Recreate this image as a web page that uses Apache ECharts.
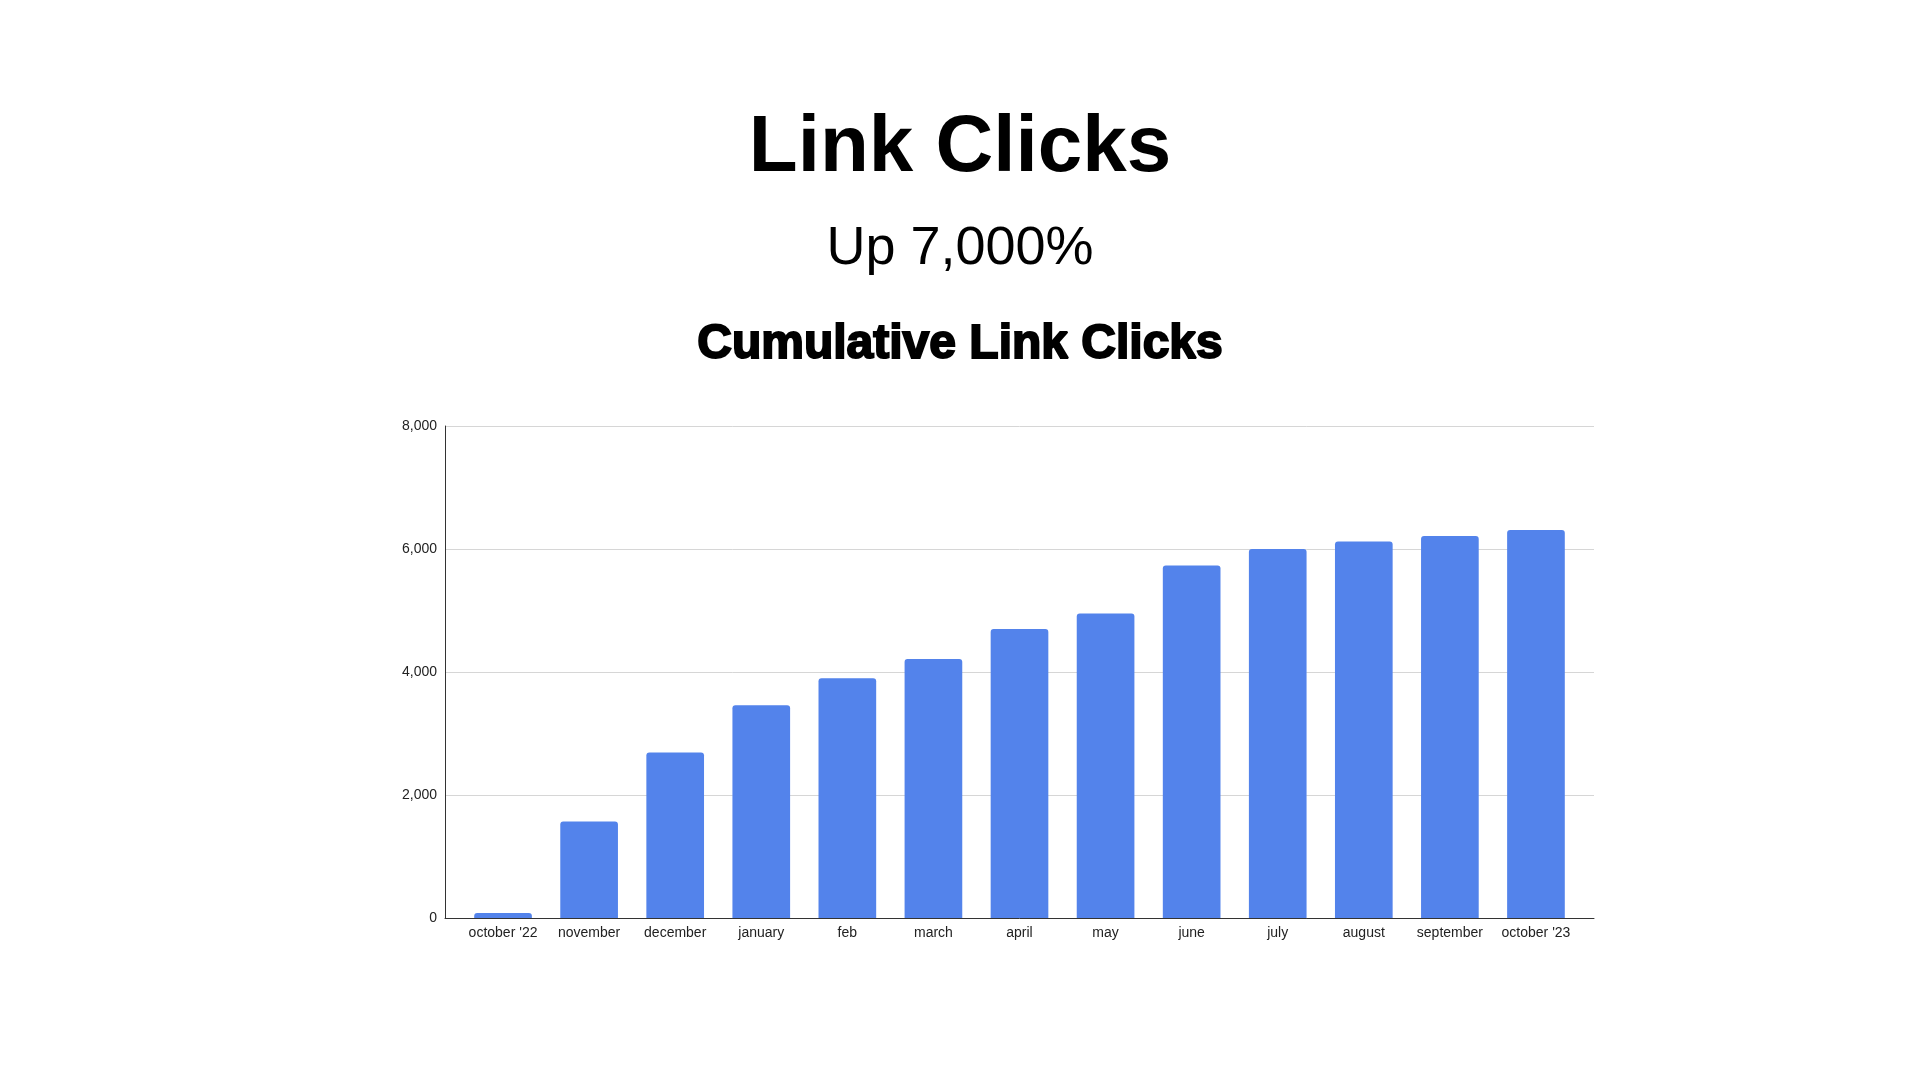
<!DOCTYPE html>
<html>
<head>
<meta charset="utf-8">
<script src="https://cdn.jsdelivr.net/npm/echarts@6/dist/echarts.min.js"></script>
<style>
html,body{margin:0;padding:0;background:#fff;}
#chart{width:1920px;height:1080px;}
</style>
</head>
<body>
<div id="chart"></div>
<script>
const titleText = 'Link Clicks';
const subtitleText = 'Up 7,000%';
const chartTitleText = 'Cumulative Link Clicks';
const categories = ["october '22", 'november', 'december', 'january', 'feb', 'march', 'april', 'may', 'june', 'july', 'august', 'september', "october '23"];
const linkClicks = [80, 1570, 2690, 3460, 3900, 4210, 4700, 4950, 5730, 6000, 6120, 6210, 6310];
const yTicks = [0, 2000, 4000, 6000, 8000];

const chart = echarts.init(document.getElementById('chart'));
const font = '"Liberation Sans", Arial, sans-serif';
const yMin = yTicks[0], yMax = yTicks[yTicks.length - 1], yStep = yTicks[1] - yTicks[0];
chart.setOption({
  backgroundColor: '#ffffff',
  animation: false,
  title: [
    {text: titleText, left: 'center', top: 109, padding: 0,
     textStyle: {fontFamily: font, fontSize: 80, fontWeight: 'bold', color: '#000'}},
    {text: subtitleText, left: 'center', top: 222, padding: 0,
     textStyle: {fontFamily: font, fontSize: 54, fontWeight: 'normal', color: '#000'}},
    {text: chartTitleText, left: 'center', top: 321, padding: 0,
     textStyle: {fontFamily: font, fontSize: 48, fontWeight: 'bold', color: '#000',
       textBorderColor: '#000', textBorderWidth: 2}}
  ],
  grid: [
    {left: 445, right: 326, top: 426, bottom: 162, containLabel: false},
    {left: 460, right: 341, top: 426, bottom: 162, containLabel: false}
  ],
  xAxis: [
    {type: 'value', gridIndex: 0, min: 0, max: 1,
     axisLine: {show: true, onZero: false, lineStyle: {color: '#333', width: 1}},
     axisTick: {show: false}, axisLabel: {show: false}, splitLine: {show: false}},
    {type: 'category', gridIndex: 1, data: categories,
     axisLine: {show: false}, axisTick: {show: false},
     axisLabel: {fontFamily: font, fontSize: 14, color: '#222', margin: 8, interval: 0}}
  ],
  yAxis: [
    {type: 'value', gridIndex: 0, min: yMin, max: yMax, interval: yStep,
     axisLine: {show: true, lineStyle: {color: '#333', width: 1}},
     axisTick: {show: false},
     splitLine: {lineStyle: {color: '#d6d6d6', width: 1}},
     axisLabel: {fontFamily: font, fontSize: 14, color: '#222', margin: 8,
       formatter: v => v.toLocaleString('en-US')}},
    {type: 'value', gridIndex: 1, min: yMin, max: yMax, interval: yStep,
     axisLine: {show: false}, axisTick: {show: false}, axisLabel: {show: false},
     splitLine: {show: false}}
  ],
  series: [{
    type: 'bar',
    xAxisIndex: 1,
    yAxisIndex: 1,
    data: linkClicks,
    barCategoryGap: '33%',
    itemStyle: {color: '#5383EB', borderRadius: [3, 3, 0, 0]}
  }]
});
</script>
</body>
</html>
